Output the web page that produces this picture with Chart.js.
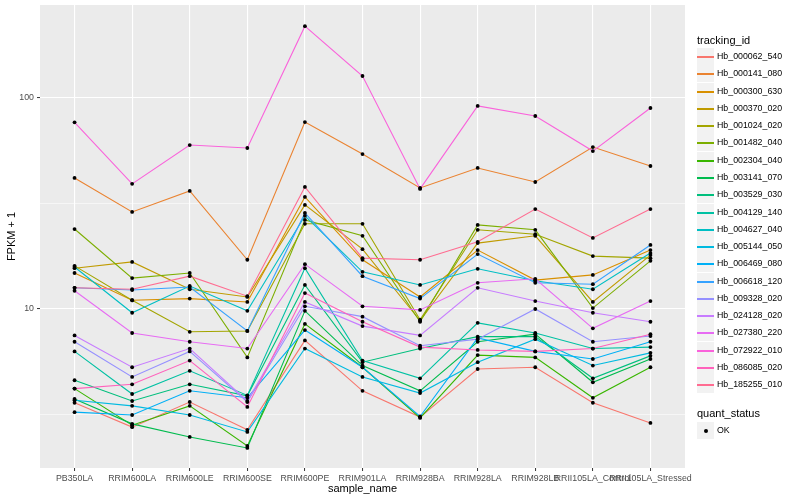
<!DOCTYPE html>
<html>
<head>
<meta charset="utf-8">
<script src="https://cdn.jsdelivr.net/npm/chart.js@4.4.1/dist/chart.umd.min.js"></script>
<style>
  body { margin: 0; background: #fff; }
  #wrap { position: relative; width: 800px; height: 500px; font-family: "Liberation Sans", Arial, sans-serif; }
  #legend { position: absolute; left: 697px; top: 0; width: 103px; height: 500px; }
  .legend-title { position: absolute; left: 0; font-size: 11px; color: #000; white-space: nowrap; line-height: 14px; }
  .legend-row { position: absolute; left: 0; height: 17px; white-space: nowrap; }
  .legend-key { position: absolute; left: 0; top: 0; width: 17px; height: 17px; background: #f2f2f2; }
  .legend-key span { position: absolute; left: 0; top: 8px; width: 17px; height: 1.5px; }
  .legend-key i { position: absolute; left: 6.5px; top: 6.5px; width: 4px; height: 4px; border-radius: 2px; background: #000; }
  .legend-label { position: absolute; left: 20px; top: 0; font-size: 8.8px; line-height: 17px; color: #000; }
</style>
</head>
<body>
<div id="wrap">
  <canvas id="chart" width="800" height="500"></canvas>
  <div id="legend"></div>
</div>
<script>
const categories = ["PB350LA", "RRIM600LA", "RRIM600LE", "RRIM600SE", "RRIM600PE", "RRIM901LA",
  "RRIM928BA", "RRIM928LA", "RRIM928LB", "RRII105LA_Control", "RRII105LA_Stressed"];

const trackingIds = ["Hb_000062_540", "Hb_000141_080", "Hb_000300_630", "Hb_000370_020", "Hb_001024_020",
  "Hb_001482_040", "Hb_002304_040", "Hb_003141_070", "Hb_003529_030", "Hb_004129_140",
  "Hb_004627_040", "Hb_005144_050", "Hb_006469_080", "Hb_006618_120", "Hb_009328_020",
  "Hb_024128_020", "Hb_027380_220", "Hb_072922_010", "Hb_086085_020", "Hb_185255_010"];

const seriesColors = ["#F8766D", "#EA8331", "#D89000", "#C09B00", "#A3A500", "#7CAE00", "#39B600", "#00BB4E",
  "#00BF7D", "#00C1A3", "#00BFC4", "#00BAE0", "#00B0F6", "#35A2FF", "#9590FF", "#C77CFF",
  "#E76BF3", "#FA62DB", "#FF62BC", "#FF6C91"];

// FPKM + 1 per sample, same order as categories
const hb000062_540 = [3.6, 2.76, 3.63, 2.68, 7.1, 4.1, 3.08, 5.2, 5.3, 3.6, 2.89];
const hb000141_080 = [41.7, 28.8, 36.2, 17.1, 76.7, 54.1, 37.4, 46.5, 39.9, 58.4, 47.5];
const hb000300_630 = [14.8, 11.0, 11.2, 10.8, 33.9, 17.1, 11.4, 19.0, 13.7, 14.5, 19.0];
const hb000370_020 = [15.6, 16.7, 12.4, 11.4, 31.1, 19.2, 8.8, 20.5, 22.2, 10.8, 18.0];
const hb001024_020 = [16.0, 11.0, 7.8, 7.87, 25.3, 25.3, 8.9, 23.7, 22.6, 17.8, 17.4];
const hb001482_040 = [23.9, 14.0, 14.8, 5.9, 26.4, 22.2, 8.7, 25.0, 23.7, 10.1, 16.9];
const hb002304_040 = [4.2, 2.82, 3.48, 2.25, 8.5, 5.3, 3.05, 6.05, 5.9, 3.8, 5.3];
const hb003141_070 = [3.75, 2.86, 2.48, 2.2, 9.8, 5.4, 4.1, 7.0, 7.6, 4.5, 5.8];
const hb003529_030 = [4.6, 3.67, 4.4, 3.88, 13.0, 5.6, 6.5, 7.4, 7.4, 4.7, 6.0];
const hb004129_140 = [6.3, 3.96, 5.1, 3.9, 15.6, 5.7, 4.7, 8.6, 7.7, 6.5, 6.6];
const hb004627_040 = [15.8, 9.6, 12.85, 9.8, 27.6, 15.0, 13.0, 15.5, 13.6, 12.4, 18.4];
const hb005144_050 = [3.7, 3.48, 3.15, 2.62, 6.5, 4.77, 4.0, 5.6, 7.2, 5.4, 6.2];
const hb006469_080 = [3.25, 3.15, 4.1, 3.8, 7.95, 5.3, 3.1, 7.3, 6.3, 5.8, 7.0];
const hb006618_120 = [12.6, 12.3, 12.7, 7.87, 28.5, 14.3, 11.2, 18.2, 13.3, 13.1, 20.1];
const hb009328_020 = [7.0, 4.77, 6.3, 3.63, 10.3, 9.2, 6.7, 7.2, 10.0, 7.0, 7.45];
const hb024128_020 = [7.5, 5.3, 6.5, 3.67, 10.8, 8.3, 7.5, 12.6, 10.9, 9.6, 8.7];
const hb027380_220 = [12.2, 7.7, 7.0, 6.5, 16.3, 10.3, 9.9, 13.3, 13.9, 8.1, 10.9];
const hb072922_010 = [76.5, 39.1, 59.7, 57.8, 218, 126.7, 37.0, 91.4, 81.9, 55.9, 89.4];
const hb086085_020 = [4.2, 4.4, 5.7, 3.44, 11.9, 8.7, 6.6, 6.4, 6.3, 6.5, 7.6];
const hb185255_010 = [12.6, 12.4, 14.3, 11.5, 37.8, 17.4, 17.1, 20.8, 29.7, 21.7, 29.7];

const seriesValues = [hb000062_540, hb000141_080, hb000300_630, hb000370_020, hb001024_020,
  hb001482_040, hb002304_040, hb003141_070, hb003529_030, hb004129_140,
  hb004627_040, hb005144_050, hb006469_080, hb006618_120, hb009328_020,
  hb024128_020, hb027380_220, hb072922_010, hb086085_020, hb185255_010];

const yTicks = [Math.sqrt(10), 10, Math.sqrt(1000), 100];
const yMajor = [10, 100];

const toPoints = (values) => values.map((v, i) => ({ x: i, y: v }));

const lineSets = seriesValues.map((values, i) => ({
  label: trackingIds[i],
  data: toPoints(values),
  borderColor: seriesColors[i],
  backgroundColor: seriesColors[i],
  borderWidth: 1.1,
  pointRadius: 0,
  fill: false,
  tension: 0,
  order: seriesValues.length - i
}));

const pointSet = {
  label: "OK",
  type: "scatter",
  data: seriesValues.flatMap(toPoints),
  backgroundColor: "#000",
  borderColor: "#000",
  pointRadius: 1.9,
  borderWidth: 0,
  showLine: false,
  order: 0
};

const panelBackground = {
  id: "panelBackground",
  beforeDraw(chart) {
    const { ctx, chartArea } = chart;
    ctx.save();
    ctx.fillStyle = "#ebebeb";
    ctx.fillRect(chartArea.left, chartArea.top, chartArea.right - chartArea.left, chartArea.bottom - chartArea.top);
    ctx.restore();
  }
};

const isMajor = (v) => yMajor.some((m) => Math.abs(m - v) < 1e-6);

new Chart(document.getElementById("chart"), {
  type: "line",
  data: { datasets: [pointSet, ...lineSets] },
  options: {
    responsive: false,
    animation: false,
    layout: { padding: { top: 5, right: 115, left: 0, bottom: 0 } },
    plugins: { legend: { display: false }, tooltip: { enabled: false } },
    scales: {
      x: {
        type: "linear",
        min: -0.6,
        max: categories.length - 0.4,
        afterBuildTicks: (scale) => { scale.ticks = categories.map((_, i) => ({ value: i })); },
        afterFit: (scale) => { scale.height = 32; },
        border: { display: false },
        grid: { color: "#ffffff", lineWidth: 1.1, tickLength: 3, tickColor: "#333333", tickWidth: 1 },
        ticks: {
          autoSkip: false, maxRotation: 0, minRotation: 0, padding: 2,
          color: "#4d4d4d", font: { family: "Liberation Sans, Arial", size: 8.8 },
          callback: (value) => categories[Math.round(value)]
        },
        title: {
          display: true, text: "sample_name", color: "#000",
          font: { family: "Liberation Sans, Arial", size: 11 }, padding: { top: 1, bottom: 4 }
        }
      },
      y: {
        type: "logarithmic",
        min: 1.768,
        max: 274.6,
        afterBuildTicks: (scale) => { scale.ticks = yTicks.map((v) => ({ value: v })); },
        afterFit: (scale) => {
          scale.width = 40;
          scale.paddingTop = 0;
          scale.paddingBottom = 0;
        },
        border: { display: false },
        grid: {
          color: "#ffffff",
          lineWidth: (ctx) => (ctx.tick && isMajor(ctx.tick.value) ? 1.1 : 0.55),
          tickLength: 3,
          tickWidth: 1,
          tickColor: (ctx) => (ctx.tick && isMajor(ctx.tick.value) ? "#333333" : "rgba(0,0,0,0)")
        },
        ticks: {
          padding: 3, color: "#4d4d4d", font: { family: "Liberation Sans, Arial", size: 8.8 },
          callback: (value) => (isMajor(value) ? String(Math.round(value)) : "")
        },
        title: {
          display: true, text: "FPKM + 1", color: "#000",
          font: { family: "Liberation Sans, Arial", size: 11 }, padding: { top: 5, bottom: 0 }
        }
      }
    }
  },
  plugins: [panelBackground]
});

// ggplot-style legend at the right
const legend = document.getElementById("legend");
const addTitle = (text, top) => {
  const el = document.createElement("div");
  el.className = "legend-title";
  el.style.top = top + "px";
  el.textContent = text;
  legend.appendChild(el);
};
const addRow = (label, top, color) => {
  const row = document.createElement("div");
  row.className = "legend-row";
  row.style.top = Math.round(top) + "px";
  const key = document.createElement("div");
  key.className = "legend-key";
  const mark = document.createElement(color ? "span" : "i");
  if (color) mark.style.background = color;
  key.appendChild(mark);
  const text = document.createElement("div");
  text.className = "legend-label";
  text.textContent = label;
  row.appendChild(key);
  row.appendChild(text);
  legend.appendChild(row);
};

addTitle("tracking_id", 33);
trackingIds.forEach((id, i) => addRow(id, 48 + i * 17.28, seriesColors[i]));
addTitle("quant_status", 406);
addRow("OK", 422, null);
</script>
</body>
</html>
